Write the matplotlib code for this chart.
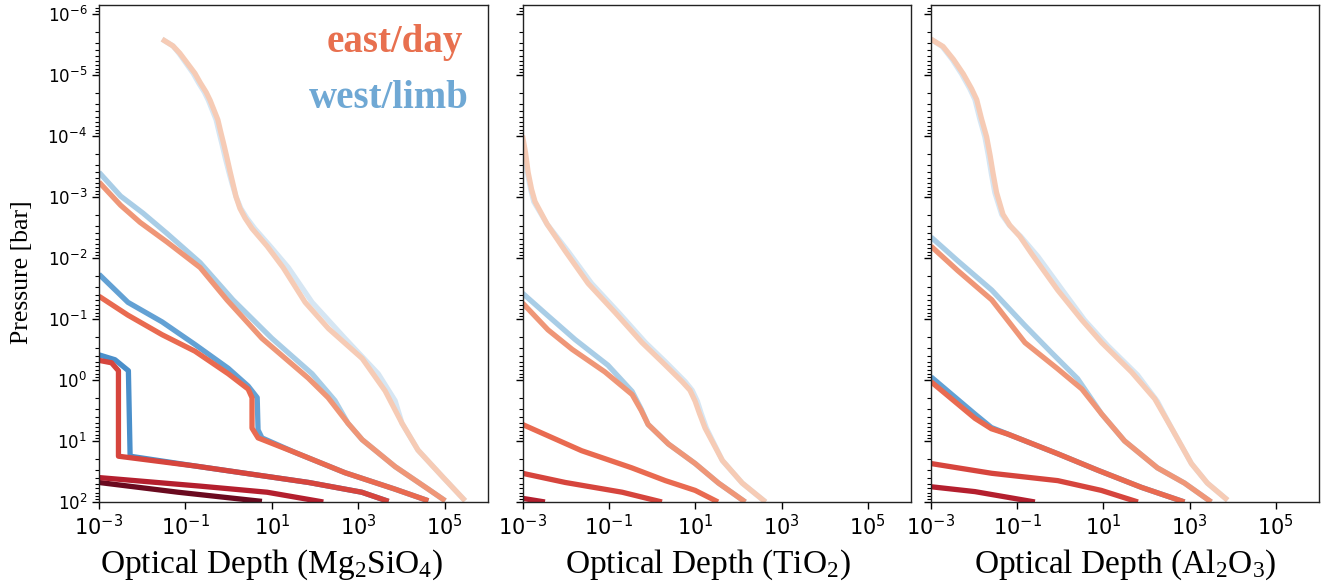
import numpy as np
import matplotlib
matplotlib.use("Agg")
import matplotlib.pyplot as plt
from matplotlib.ticker import LogLocator, NullLocator, NullFormatter

# ── data (log10 optical depth, log10 pressure in bar) ──
# level 0 = deepest/darkest ... level 5 = highest/lightest

# Mg2SiO4
mg_day0_tau = [-3.0, -1.17, 0.77]
mg_day0_p   = [1.68, 1.84, 1.99]
mg_day1_tau = [-3.0, -0.66, 0.89, 2.19]
mg_day1_p   = [1.60, 1.74, 1.84, 2.0]
mg_day2_tau = [-3.0, -2.71, -2.55, -2.55, -0.78, 1.85, 3.08, 3.70]
mg_day2_p   = [-0.32, -0.28, -0.15, 1.25, 1.41, 1.68, 1.84, 1.99]
mg_west2_tau = [-3.0, -2.63, -2.32, -2.28, -0.78, 1.85, 3.08, 3.70]
mg_west2_p   = [-0.41, -0.33, -0.15, 1.25, 1.41, 1.68, 1.84, 1.99]
mg_day3_tau = [-3.0, -2.33, -1.54, -0.78, -0.01, 0.45, 0.54, 0.54, 0.68, 1.54, 2.69, 3.85, 4.62]
mg_day3_p   = [-1.37, -1.06, -0.74, -0.47, -0.10, 0.15, 0.29, 0.79, 0.95, 1.19, 1.52, 1.79, 1.98]
mg_west3_tau = [-3.0, -2.33, -1.54, -0.78, -0.01, 0.45, 0.66, 0.68, 0.77, 1.54, 2.69, 3.85, 4.62]
mg_west3_p   = [-1.73, -1.27, -0.95, -0.58, -0.19, 0.10, 0.29, 0.82, 0.95, 1.19, 1.52, 1.79, 1.98]
mg_day4_tau = [-3.0, -2.5, -2.05, -1.43, -0.66, -0.04, 0.77, 1.84, 2.30, 2.76, 3.09, 3.85, 4.62, 5.01]
mg_day4_p   = [-3.24, -2.86, -2.58, -2.26, -1.84, -1.31, -0.68, -0.03, 0.29, 0.71, 0.98, 1.42, 1.79, 1.98]
mg_west4_tau = [-3.0, -2.5, -1.98, -1.43, -0.66, 0.10, 1.00, 1.93, 2.46, 2.76, 3.09, 3.85, 4.62, 5.01]
mg_west4_p   = [-3.40, -3.01, -2.73, -2.40, -1.92, -1.31, -0.68, -0.10, 0.34, 0.71, 0.98, 1.42, 1.79, 1.98]
mg_day5_tau = [-1.54, -1.29, -1.13, -0.96, -0.78, -0.66, -0.52, -0.43, -0.34, -0.25, -0.18, -0.11,
               -0.04, 0.03, 0.10, 0.17, 0.26, 0.38, 0.54, 0.89, 1.26, 1.77, 2.31, 3.09, 3.62,
               4.01, 4.38, 4.94, 5.47]
mg_day5_p   = [-5.58, -5.47, -5.35, -5.19, -5.02, -4.87, -4.71, -4.58, -4.42, -4.26, -4.05, -3.85,
               -3.64, -3.42, -3.21, -3.00, -2.81, -2.65, -2.48, -2.19, -1.84, -1.27, -0.84, -0.35, 0.18,
               0.71, 1.15, 1.58, 1.98]
mg_west5_tau = [-1.54, -1.29, -1.15, -0.99, -0.82, -0.70, -0.56, -0.47, -0.38, -0.29, -0.22, -0.15,
                -0.08, 0.0, 0.08, 0.17, 0.28, 0.42, 0.60, 0.96, 1.38, 1.93, 2.69, 3.46, 3.85,
                4.01, 4.38, 4.94, 5.47]
mg_west5_p   = [-5.58, -5.47, -5.35, -5.19, -5.02, -4.87, -4.71, -4.58, -4.42, -4.26, -4.05, -3.85,
                -3.64, -3.42, -3.21, -3.00, -2.81, -2.65, -2.48, -2.19, -1.84, -1.27, -0.68, -0.10, 0.34,
                0.71, 1.15, 1.58, 1.98]

# TiO2
ti_day1_tau = [-3.0, -2.48]
ti_day1_p   = [1.94, 2.0]
ti_day2_tau = [-3.0, -2.01, -0.69, -0.23, 0.23]
ti_day2_p   = [1.53, 1.68, 1.84, 1.92, 2.0]
ti_day3_tau = [-3.0, -1.63, -0.47, 0.31, 1.0, 1.53]
ti_day3_p   = [0.73, 1.16, 1.44, 1.65, 1.81, 2.0]
ti_day4_tau = [-3.0, -2.41, -1.85, -1.09, -0.46, -0.25, -0.09, 0.38, 1.0, 1.54, 2.16]
ti_day4_p   = [-1.26, -0.82, -0.50, -0.13, 0.24, 0.50, 0.73, 1.05, 1.37, 1.69, 2.0]
ti_west4_tau = [-3.0, -2.41, -1.78, -1.02, -0.46, -0.25, -0.09, 0.38, 1.0, 1.54, 2.16]
ti_west4_p   = [-1.42, -1.05, -0.66, -0.24, 0.19, 0.48, 0.73, 1.05, 1.37, 1.69, 2.0]
ti_day5_tau = [-3.0, -2.93, -2.87, -2.79, -2.71, -2.43, -2.01, -1.48, -0.85, -0.23, 0.24, 0.70,
               0.88, 1.00, 1.10, 1.23, 1.63, 2.09, 2.63]
ti_day5_p   = [-4.0, -3.72, -3.40, -3.12, -2.92, -2.55, -2.11, -1.58, -1.10, -0.61, -0.29, 0.03,
               0.17, 0.35, 0.55, 0.79, 1.32, 1.69, 2.0]
ti_west5_tau = [-3.0, -2.94, -2.89, -2.81, -2.74, -2.43, -1.95, -1.40, -0.77, -0.15, 0.32, 0.77,
                0.93, 1.05, 1.14, 1.26, 1.63, 2.09, 2.63]
ti_west5_p   = [-3.85, -3.65, -3.40, -3.12, -2.92, -2.55, -2.11, -1.58, -1.10, -0.61, -0.29, 0.03,
                0.17, 0.35, 0.55, 0.79, 1.32, 1.69, 2.0]

# Al2O3
al_day1_tau = [-3.0, -1.98, -0.59]
al_day1_p   = [1.75, 1.83, 2.0]
al_day2_tau = [-3.0, -1.59, -0.06, 0.95, 1.80]
al_day2_p   = [1.37, 1.53, 1.65, 1.81, 2.0]
al_day3_tau = [-3.0, -1.98, -1.60, -1.21, -0.06, 0.87, 1.88, 2.88]
al_day3_p   = [0.03, 0.63, 0.80, 0.89, 1.21, 1.48, 1.76, 2.0]
al_west3_tau = [-3.0, -1.98, -1.60, -1.21, -0.06, 0.87, 1.88, 2.88]
al_west3_p   = [-0.05, 0.56, 0.78, 0.89, 1.21, 1.48, 1.76, 2.0]
al_day4_tau = [-3.0, -2.38, -1.59, -0.82, -0.06, 0.50, 0.96, 1.49, 2.25, 2.88, 3.50]
al_day4_p   = [-2.19, -1.79, -1.31, -0.61, -0.18, 0.15, 0.56, 1.0, 1.44, 1.69, 2.0]
al_west4_tau = [-3.0, -2.38, -1.59, -0.82, -0.21, 0.40, 0.96, 1.49, 2.25, 2.88, 3.50]
al_west4_p   = [-2.34, -1.95, -1.47, -0.89, -0.45, -0.02, 0.56, 1.0, 1.44, 1.69, 2.0]
al_day5_tau = [-3.0, -2.72, -2.48, -2.25, -2.06, -1.94, -1.83, -1.71, -1.63, -1.56, -1.48, -1.33,
               -1.17, -0.94, -0.66, -0.06, 0.50, 0.96, 1.65, 2.19, 2.58, 3.04, 3.41, 3.88]
al_day5_p   = [-5.58, -5.46, -5.25, -5.01, -4.77, -4.59, -4.28, -3.98, -3.68, -3.38, -3.07, -2.71,
               -2.53, -2.35, -2.06, -1.47, -0.98, -0.61, -0.13, 0.31, 0.79, 1.37, 1.69, 1.97]
al_west5_tau = [-3.0, -2.74, -2.51, -2.29, -2.10, -1.98, -1.87, -1.75, -1.67, -1.60, -1.52, -1.36,
                -1.18, -0.92, -0.52, 0.10, 0.56, 1.10, 1.79, 2.25, 2.58, 3.04, 3.41, 3.88]
al_west5_p   = [-5.58, -5.46, -5.25, -5.01, -4.77, -4.59, -4.28, -3.98, -3.68, -3.38, -3.07, -2.71,
                -2.53, -2.35, -2.02, -1.42, -0.98, -0.56, -0.08, 0.35, 0.79, 1.37, 1.69, 1.97]

TAU_TICKS = [1e-3, 1e-1, 1e1, 1e3, 1e5]
P_TICKS = [1e-6, 1e-5, 1e-4, 1e-3, 1e-2, 1e-1, 1e0, 1e1, 1e2]

# ── stile ───────────────────────────────────────────────────
DAY_COLORS  = ["#6a0a1f", "#b41f2e", "#d6453d", "#e96a50", "#ef9677", "#f6cbb5"]
WEST_COLORS = [None, None, "#4a8fca", "#63a1d4", "#a9cde6", "#d6e6f3"]
LW = 3.8
SERIF = ["Liberation Serif", "DejaVu Serif"]
P_TOP = 10 ** -6.14
AX_TOP, AX_BOT = 5, 502   # pixel rows of the frame

PANELS = [
    {"label": r"Optical Depth (Mg$\mathregular{_2}$SiO$\mathregular{_4}$)",
     "left": 99, "right": 488, "label_x": 272,
     "west": [(2, mg_west2_tau, mg_west2_p), (3, mg_west3_tau, mg_west3_p),
              (4, mg_west4_tau, mg_west4_p), (5, mg_west5_tau, mg_west5_p)],
     "day": [(0, mg_day0_tau, mg_day0_p), (1, mg_day1_tau, mg_day1_p), (2, mg_day2_tau, mg_day2_p),
             (3, mg_day3_tau, mg_day3_p), (4, mg_day4_tau, mg_day4_p), (5, mg_day5_tau, mg_day5_p)]},
    {"label": r"Optical Depth (TiO$\mathregular{_2}$)",
     "left": 522.5, "right": 911, "label_x": 708,
     "west": [(4, ti_west4_tau, ti_west4_p), (5, ti_west5_tau, ti_west5_p)],
     "day": [(1, ti_day1_tau, ti_day1_p), (2, ti_day2_tau, ti_day2_p), (3, ti_day3_tau, ti_day3_p),
             (4, ti_day4_tau, ti_day4_p), (5, ti_day5_tau, ti_day5_p)]},
    {"label": r"Optical Depth (Al$\mathregular{_2}$O$\mathregular{_3}$)",
     "left": 931, "right": 1319, "label_x": 1125,
     "west": [(3, al_west3_tau, al_west3_p), (4, al_west4_tau, al_west4_p), (5, al_west5_tau, al_west5_p)],
     "day": [(1, al_day1_tau, al_day1_p), (2, al_day2_tau, al_day2_p), (3, al_day3_tau, al_day3_p),
             (4, al_day4_tau, al_day4_p), (5, al_day5_tau, al_day5_p)]},
]

W, H = 1323, 588
fig = plt.figure(figsize=(W / 100, H / 100), dpi=100)

axes = []
for i, pan in enumerate(PANELS):
    ax = fig.add_axes([pan["left"] / W, (H - AX_BOT) / H, (pan["right"] - pan["left"]) / W,
                       (AX_BOT - AX_TOP) / H])
    west = {lvl: (t, p) for lvl, t, p in pan["west"]}
    for lvl, t, p in pan["day"]:
        if lvl in west:
            wt, wp = west[lvl]
            ax.plot(10.0 ** np.array(wt), 10.0 ** np.array(wp), color=WEST_COLORS[lvl],
                    lw=LW, solid_joinstyle="round", solid_capstyle="butt")
        ax.plot(10.0 ** np.array(t), 10.0 ** np.array(p), color=DAY_COLORS[lvl],
                lw=LW, solid_joinstyle="round", solid_capstyle="butt")

    ax.set_xscale("log")
    ax.set_yscale("log")
    ax.set_xlim(1e-3, 1e6)
    ax.set_ylim(1e2, P_TOP)
    ax.set_xticks(TAU_TICKS)
    ax.set_yticks(P_TICKS)
    ax.xaxis.set_minor_locator(NullLocator())
    ax.yaxis.set_minor_locator(LogLocator(base=10, subs=np.arange(2, 10), numticks=20))
    ax.yaxis.set_minor_formatter(NullFormatter())
    ax.tick_params(axis="x", labelsize=15, length=5, width=1, pad=4)
    ax.tick_params(axis="y", which="major", labelsize=12, length=5, width=1)
    ax.tick_params(axis="y", which="minor", length=3, width=0.8)
    if i > 0:
        ax.tick_params(axis="y", labelleft=False)
    for s in ax.spines.values():
        s.set_color("#222222")
        s.set_linewidth(1.0)
    fig.text(pan["label_x"] / W, 1 - 565 / H, pan["label"], family=SERIF, fontsize=24,
             ha="center", va="center")
    axes.append(ax)

fig.text(22 / W, 1 - 272 / H, "Pressure [bar]", family=SERIF, fontsize=18.5,
         rotation=90, ha="center", va="center")

axes[0].text(0.935, 0.925, "east/day", transform=axes[0].transAxes, family=SERIF,
             fontsize=28, fontweight="bold", color="#e8704f", ha="right", va="center")
axes[0].text(0.95, 0.812, "west/limb", transform=axes[0].transAxes, family=SERIF,
             fontsize=28, fontweight="bold", color="#6fa8d4", ha="right", va="center")

fig.savefig("out.png", dpi=100)
